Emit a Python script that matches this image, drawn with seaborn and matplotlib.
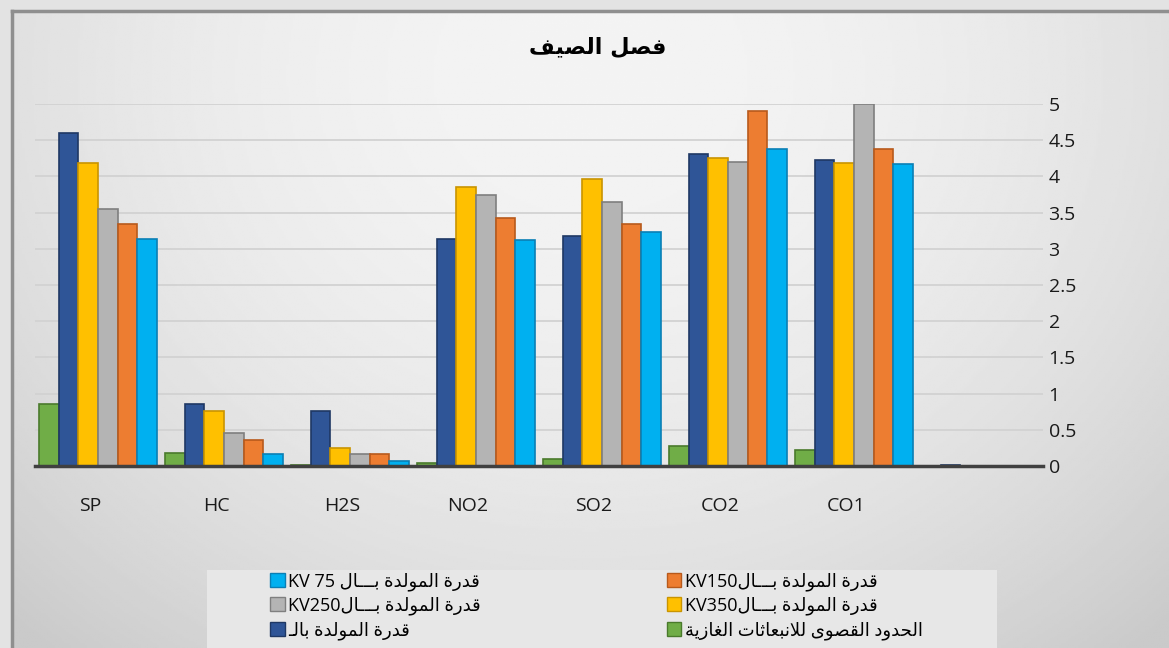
import numpy as np
import pandas as pd
import matplotlib
matplotlib.use('Agg')
import matplotlib.pyplot as plt
import matplotlib.transforms as mtransforms
from matplotlib.patches import Rectangle, Patch
import seaborn as sns

# data
categories = ['SP', 'HC', 'H2S', 'NO2', 'SO2', 'CO2', 'CO1', '']
limits = [0.85, 0.18, 0.02, 0.04, 0.10, 0.27, 0.22, 0]
gen_base = [4.60, 0.86, 0.76, 3.14, 3.17, 4.31, 4.23, 0.02]
kv350 = [4.19, 0.76, 0.25, 3.86, 3.96, 4.26, 4.18, 0]
kv250 = [3.55, 0.46, 0.16, 3.75, 3.65, 4.20, 5.00, 0]
kv150 = [3.34, 0.36, 0.16, 3.43, 3.34, 4.90, 4.38, 0]
kv75 = [3.13, 0.16, 0.07, 3.12, 3.23, 4.38, 4.17, 0]

title_txt = 'فصل الصيف'
gen_txt = 'قدرة المولدة بـــال'

# small arabic shaper (matplotlib has no text shaping)
DUAL = {'ب': 0xFE8F, 'ت': 0xFE95, 'ث': 0xFE99, 'ح': 0xFEA1, 'ص': 0xFEB9,
        'ع': 0xFEC9, 'غ': 0xFECD, 'ف': 0xFED1, 'ق': 0xFED5, 'ل': 0xFEDD,
        'م': 0xFEE1, 'ن': 0xFEE5, 'ي': 0xFEF1}
RIGHT = {'ا': 0xFE8D, 'ة': 0xFE93, 'د': 0xFEA9, 'ر': 0xFEAD, 'ز': 0xFEAF,
         'و': 0xFEED, 'ى': 0xFEEF}


def shape(s):
    def jl(c):
        return c in DUAL or c == 'ـ'

    def jr(c):
        return c in DUAL or c in RIGHT or c == 'ـ'
    out = []
    i = 0
    while i < len(s):
        c = s[i]
        prev = s[i - 1] if i > 0 else ''
        lp = jl(prev) and jr(c)
        if c == 'ل' and i + 1 < len(s) and s[i + 1] == 'ا':
            out.append('\ufefc' if lp else '\ufefb')
            i += 2
            continue
        nxt = s[i + 1] if i + 1 < len(s) else ''
        ln = jl(c) and jr(nxt)
        if c in DUAL:
            out.append(chr(DUAL[c] + {(0, 0): 0, (1, 0): 1, (0, 1): 2, (1, 1): 3}[(int(lp), int(ln))]))
        elif c in RIGHT:
            out.append(chr(RIGHT[c] + int(lp)))
        else:
            out.append(c)
        i += 1
    return ''.join(out)[::-1]


lbl_lim = shape('الحدود القصوى للانبعاثات الغازية')
lbl_gen = shape('قدرة المولدة بالـ')
lbl_350 = 'KV350' + shape(gen_txt)
lbl_250 = 'KV250' + shape(gen_txt)
lbl_150 = 'KV150' + shape(gen_txt)
lbl_75 = 'KV 75 ' + shape(gen_txt)

series = [lbl_lim, lbl_gen, lbl_350, lbl_250, lbl_150, lbl_75]
values = [limits, gen_base, kv350, kv250, kv150, kv75]
fills = ['#70ad47', '#2f5597', '#ffc000', '#b4b4b4', '#ed7d31', '#00b0f0']
edges = ['#4a7a2c', '#1f3864', '#c99400', '#7f7f7f', '#b85a1c', '#0a7fb5']

df = pd.DataFrame({
    'category': categories * len(series),
    'value': sum(values, []),
    'series': [s for s in series for _ in categories],
})

plt.rcParams['font.family'] = ['Open Sans', 'DejaVu Sans']

fig = plt.figure(figsize=(11.69, 6.48), dpi=100)
fig.patch.set_facecolor('#e3e3e3')

# gradient background of the chart area
bg = fig.add_axes([12 / 1169, 0, 1 - 12 / 1169, 1 - 11 / 648], zorder=-1)
yy, xx = np.mgrid[0:1:300j, 0:1:500j]
r2 = ((xx - 0.5) / 0.65) ** 2 + ((yy - 0.1) / 1.05) ** 2
bg.imshow(np.clip(0.955 - 0.13 * r2, 0.79, 0.96), cmap='gray', vmin=0, vmax=1,
          aspect='auto', extent=(0, 1, 1, 0))
bg.set_xticks([])
bg.set_yticks([])
for s in ['right', 'bottom']:
    bg.spines[s].set_visible(False)
for s in ['left', 'top']:
    bg.spines[s].set_color('#8f8f8f')
    bg.spines[s].set_linewidth(2.5)

ax = fig.add_axes([35 / 1169, 1 - 466 / 648, 1008 / 1169, 362 / 648])
ax.set_facecolor('none')
sns.barplot(data=df, x='category', y='value', hue='series', order=categories,
            hue_order=series, palette=dict(zip(series, fills)), width=0.94,
            saturation=1, legend=False, ax=ax)
for cont, ec in zip(ax.containers, edges):
    for bar in cont:
        bar.set_edgecolor(ec)
        bar.set_linewidth(1.2)

ax.set_xlim(-0.5, len(categories) - 0.5)
ax.set_ylim(0, 5)
ax.yaxis.tick_right()
yt = np.arange(0, 5.01, 0.5)
ax.set_yticks(yt)
ax.set_yticklabels([f'{v:g}' for v in yt])
ax.tick_params(axis='y', length=0, pad=4, labelsize=14, labelcolor='#1a1a1a')
ax.tick_params(axis='x', length=0, pad=22, labelsize=14, labelcolor='#1a1a1a')
off = mtransforms.ScaledTranslation(-0.08, 0, fig.dpi_scale_trans)
for lab in ax.get_xticklabels():
    lab.set_transform(lab.get_transform() + off)
ax.set_xlabel('')
ax.set_ylabel('')
ax.yaxis.grid(True, color='#d2d2d2', linewidth=1.3)
ax.set_axisbelow(True)
for s in ['left', 'right', 'top']:
    ax.spines[s].set_visible(False)
ax.spines['bottom'].set_color('#404040')
ax.spines['bottom'].set_linewidth(2.5)

fig.text(0.511, 1 - 47 / 648, shape(title_txt), ha='center', va='center',
         fontsize=16, fontweight='bold', family=['DejaVu Sans'])

# legend box
fig.add_artist(Rectangle((207 / 1169, 0), 790 / 1169, 78 / 648, transform=fig.transFigure,
                         facecolor='#e7e7e7', edgecolor='none', zorder=0.5))
order = [5, 3, 1, 4, 2, 0]
handles = [Patch(facecolor=fills[i], edgecolor=edges[i]) for i in order]
labels = [series[i] for i in order]
fig.legend(handles, labels, loc='upper left', bbox_to_anchor=(254 / 1169, 1 - 556 / 648),
           ncol=2, frameon=False, fontsize=13, handlelength=0.8, handleheight=0.8,
           handletextpad=0.2, labelspacing=0.32, columnspacing=10.3)

fig.savefig('out.png', dpi=100)
